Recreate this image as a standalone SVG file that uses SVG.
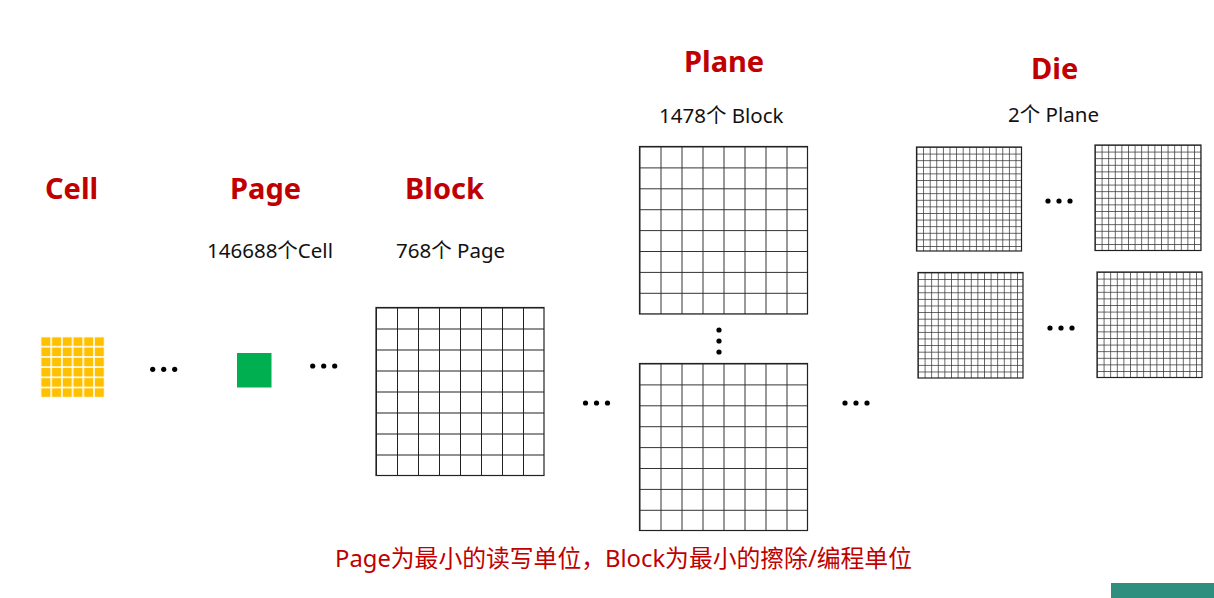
<svg xmlns="http://www.w3.org/2000/svg" width="1214" height="598" viewBox="0 0 1214 598">
<style>
.title{font-family:"Noto Sans","Noto Sans CJK SC",sans-serif;font-weight:bold;font-size:29px;fill:#C00000}
.sub{font-family:"Noto Sans","Noto Sans CJK SC",sans-serif;font-size:20.5px;fill:#111}
.note{font-family:"Noto Sans","Noto Sans CJK SC",sans-serif;font-size:23.8px;fill:#C00000}
.dot{fill:#000}
.frame{fill:none;stroke:#222;stroke-width:1.2}
</style>
<defs>
<pattern id="cellPat" x="0" y="0" width="10.7" height="10.2" patternUnits="userSpaceOnUse">
<rect x="0.8" y="0.8" width="9.1" height="8.6" fill="#FFC000"/>
</pattern>
<pattern id="blockPat" x="0" y="0" width="21" height="21" patternUnits="userSpaceOnUse">
<path d="M0.5 0V21M0 0.5H21" stroke="#222" stroke-width="1" fill="none"/>
</pattern>
<pattern id="planePat" x="0" y="0" width="21" height="20.9" patternUnits="userSpaceOnUse">
<path d="M0.5 0V21M0 0.5H21" stroke="#333" stroke-width="1" fill="none"/>
</pattern>
<pattern id="diePat" x="0" y="0" width="6.6" height="6.6" patternUnits="userSpaceOnUse">
<path d="M0.4 0V6.6M0 0.4H6.6" stroke="#333" stroke-width="0.8" fill="none"/>
</pattern>
</defs>
<rect width="1214" height="598" fill="#fff"/>

<g id="cell">
<text class="title" x="45" y="199">Cell</text>
<g transform="translate(40.5,336.5)"><rect width="64.2" height="61.2" fill="url(#cellPat)"/></g>
</g>

<g id="page">
<text class="title" x="230" y="199">Page</text>
<text class="sub" x="207" y="258">146688个Cell</text>
<rect x="237" y="353" width="34.5" height="34.5" fill="#00B050"/>
</g>

<g id="block">
<text class="title" x="405" y="199">Block</text>
<text class="sub" x="396" y="258">768个 Page</text>
<g transform="translate(376,307.5)"><rect width="168" height="168" fill="url(#blockPat)"/><rect width="168" height="168" class="frame"/></g>
</g>

<g id="plane">
<text class="title" x="684" y="72">Plane</text>
<text class="sub" x="659" y="123">1478个 Block</text>
<g transform="translate(639.5,146.5)"><rect width="168" height="167.5" fill="url(#planePat)"/><rect width="168" height="167.5" class="frame"/></g>
<g transform="translate(639.5,363.5)"><rect width="168" height="167" fill="url(#planePat)"/><rect width="168" height="167" class="frame"/></g>
</g>

<g id="die">
<text class="title" x="1031" y="79">Die</text>
<text class="sub" x="1008" y="122">2个 Plane</text>
<g transform="translate(916.5,147)"><rect width="105" height="104" fill="url(#diePat)"/><rect width="105" height="104" class="frame"/></g>
<g transform="translate(1095,145)"><rect width="106" height="105.5" fill="url(#diePat)"/><rect width="106" height="105.5" class="frame"/></g>
<g transform="translate(918,272.5)"><rect width="105" height="105.5" fill="url(#diePat)"/><rect width="105" height="105.5" class="frame"/></g>
<g transform="translate(1097,272)"><rect width="105" height="105.5" fill="url(#diePat)"/><rect width="105" height="105.5" class="frame"/></g>
</g>

<g id="connectors">
<circle class="dot" cx="152.7" cy="369.3" r="2.6"/><circle class="dot" cx="163.7" cy="369.3" r="2.6"/><circle class="dot" cx="174.7" cy="369.3" r="2.6"/>
<circle class="dot" cx="312.7" cy="366" r="2.6"/><circle class="dot" cx="323.7" cy="366" r="2.6"/><circle class="dot" cx="334.7" cy="366" r="2.6"/>
<circle class="dot" cx="585.5" cy="403" r="2.6"/><circle class="dot" cx="596.5" cy="403" r="2.6"/><circle class="dot" cx="607.5" cy="403" r="2.6"/>
<circle class="dot" cx="845" cy="403" r="2.6"/><circle class="dot" cx="856" cy="403" r="2.6"/><circle class="dot" cx="867" cy="403" r="2.6"/>
<circle class="dot" cx="719" cy="330" r="2.6"/><circle class="dot" cx="719" cy="341" r="2.6"/><circle class="dot" cx="719" cy="352" r="2.6"/>
<circle class="dot" cx="1048" cy="201" r="2.6"/><circle class="dot" cx="1059" cy="201" r="2.6"/><circle class="dot" cx="1070" cy="201" r="2.6"/>
<circle class="dot" cx="1050" cy="328" r="2.6"/><circle class="dot" cx="1061" cy="328" r="2.6"/><circle class="dot" cx="1072" cy="328" r="2.6"/>
</g>

<text class="note" x="335" y="567">Page为最小的读写单位，Block为最小的擦除/编程单位</text>
<rect x="1111" y="583" width="103" height="15" fill="#2F8F7E"/>
</svg>
